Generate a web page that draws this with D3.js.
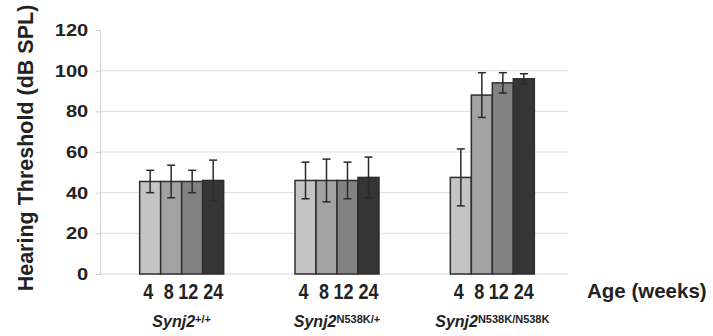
<!DOCTYPE html>
<html>
<head>
<meta charset="utf-8">
<script src="https://cdn.jsdelivr.net/npm/d3@7"></script>
<style>
  body { margin: 0; background: #fff; }
  svg text { font-family: "Liberation Sans", Arial, sans-serif; fill: #222; }
</style>
</head>
<body>
<svg id="chart" width="713" height="336"></svg>
<script>
var groups = ["+/+", "N538K/+", "N538K/N538K"];
var ages = ["4", "8", "12", "24"];
var yTicks = [0, 20, 40, 60, 80, 100, 120];

// mean threshold per group, one entry per age
var means = [
  [45.5, 45.5, 45.5, 46],
  [46, 46, 46, 47.5],
  [47.5, 88, 94, 96]
];
var errors = [
  [5.5, 8, 5.5, 10],
  [9, 10.5, 9, 10],
  [14, 11, 5, 2.5]
];

var fills = ["#c4c4c4", "#a2a2a2", "#828282", "#353535"];
// small shifts so the age numbers don't run together
var labelNudge = [-2, -2.5, -4, 0];

var svg = d3.select("#chart");

var y = d3.scaleLinear().domain([0, 120]).range([274, 30]);
var x0 = d3.scaleBand().domain(groups).range([104, 570]);
var x1 = d3.scaleBand().domain(ages).range([0, 84]);

// grid lines
svg.append("g")
  .selectAll("line")
  .data(yTicks.filter(d => d < 120))
  .enter()
  .append("line")
  .attr("x1", 100)
  .attr("x2", 568)
  .attr("y1", d => y(d))
  .attr("y2", d => y(d))
  .attr("stroke", "#dcdcdc")
  .attr("stroke-width", 1);

// y axis
var yAxis = svg.append("g")
  .attr("transform", "translate(100,0)")
  .call(d3.axisLeft(y).tickValues(yTicks).tickSize(4).tickPadding(6));
yAxis.select(".domain").attr("stroke", "#d0d0d0");
yAxis.selectAll(".tick line").attr("stroke", "#cfcfcf");
yAxis.selectAll("text")
  .style("font-size", "17px")
  .style("font-weight", "bold")
  .attr("fill", "#222")
  .attr("transform", "scale(1.18,1)");

svg.append("text")
  .attr("transform", "translate(33,148) rotate(-90)")
  .attr("text-anchor", "middle")
  .style("font-size", "21.5px")
  .style("font-weight", "bold")
  .text("Hearing Threshold (dB SPL)");

// bars
var rows = [];
groups.forEach(function (g, gi) {
  ages.forEach(function (a, ai) {
    rows.push({ group: g, age: a, ai: ai, mean: means[gi][ai], err: errors[gi][ai] });
  });
});

function barX(d) {
  return x0(d.group) + (x0.bandwidth() - 84) / 2 + x1(d.age);
}

svg.append("g")
  .selectAll("rect")
  .data(rows)
  .enter()
  .append("rect")
  .attr("x", d => barX(d))
  .attr("width", x1.bandwidth())
  .attr("y", d => y(d.mean))
  .attr("height", d => y(0) - y(d.mean))
  .attr("fill", d => fills[d.ai])
  .attr("stroke", "#2e2e2e")
  .attr("stroke-width", 1.5);

// error bars
var eb = svg.append("g")
  .selectAll("g")
  .data(rows)
  .enter()
  .append("g")
  .attr("stroke", "#2a2a2a")
  .attr("stroke-width", 1.5);
eb.append("line")
  .attr("x1", d => barX(d) + x1.bandwidth() / 2)
  .attr("x2", d => barX(d) + x1.bandwidth() / 2)
  .attr("y1", d => y(d.mean + d.err))
  .attr("y2", d => y(d.mean - d.err));
eb.selectAll(".cap")
  .data(d => [
    { cx: barX(d) + x1.bandwidth() / 2, v: d.mean + d.err },
    { cx: barX(d) + x1.bandwidth() / 2, v: d.mean - d.err }
  ])
  .enter()
  .append("line")
  .attr("class", "cap")
  .attr("x1", d => d.cx - 4)
  .attr("x2", d => d.cx + 4)
  .attr("y1", d => y(d.v))
  .attr("y2", d => y(d.v));

// age labels under bars (glyphs in the source are narrow)
svg.append("g")
  .selectAll("text")
  .data(rows)
  .enter()
  .append("text")
  .attr("transform", d => "translate(" + (barX(d) + x1.bandwidth() / 2 + labelNudge[d.ai]) + ",299) scale(0.82,1)")
  .attr("text-anchor", "middle")
  .style("font-size", "22px")
  .style("font-weight", "bold")
  .text(d => d.age);

svg.append("text")
  .attr("x", 587)
  .attr("y", 298)
  .style("font-size", "20.5px")
  .style("font-weight", "bold")
  .text("Age (weeks)");

// genotype labels
var gl = svg.append("g")
  .selectAll("text")
  .data(groups)
  .enter()
  .append("text")
  .attr("x", d => x0(d) + x0.bandwidth() / 2)
  .attr("y", 327)
  .attr("text-anchor", "middle")
  .style("font-size", "16px")
  .style("font-weight", "bold");
gl.append("tspan")
  .style("font-style", "italic")
  .text("Synj2");
gl.append("tspan")
  .attr("dy", -4)
  .style("font-size", "11px")
  .text(d => d);
</script>
</body>
</html>
